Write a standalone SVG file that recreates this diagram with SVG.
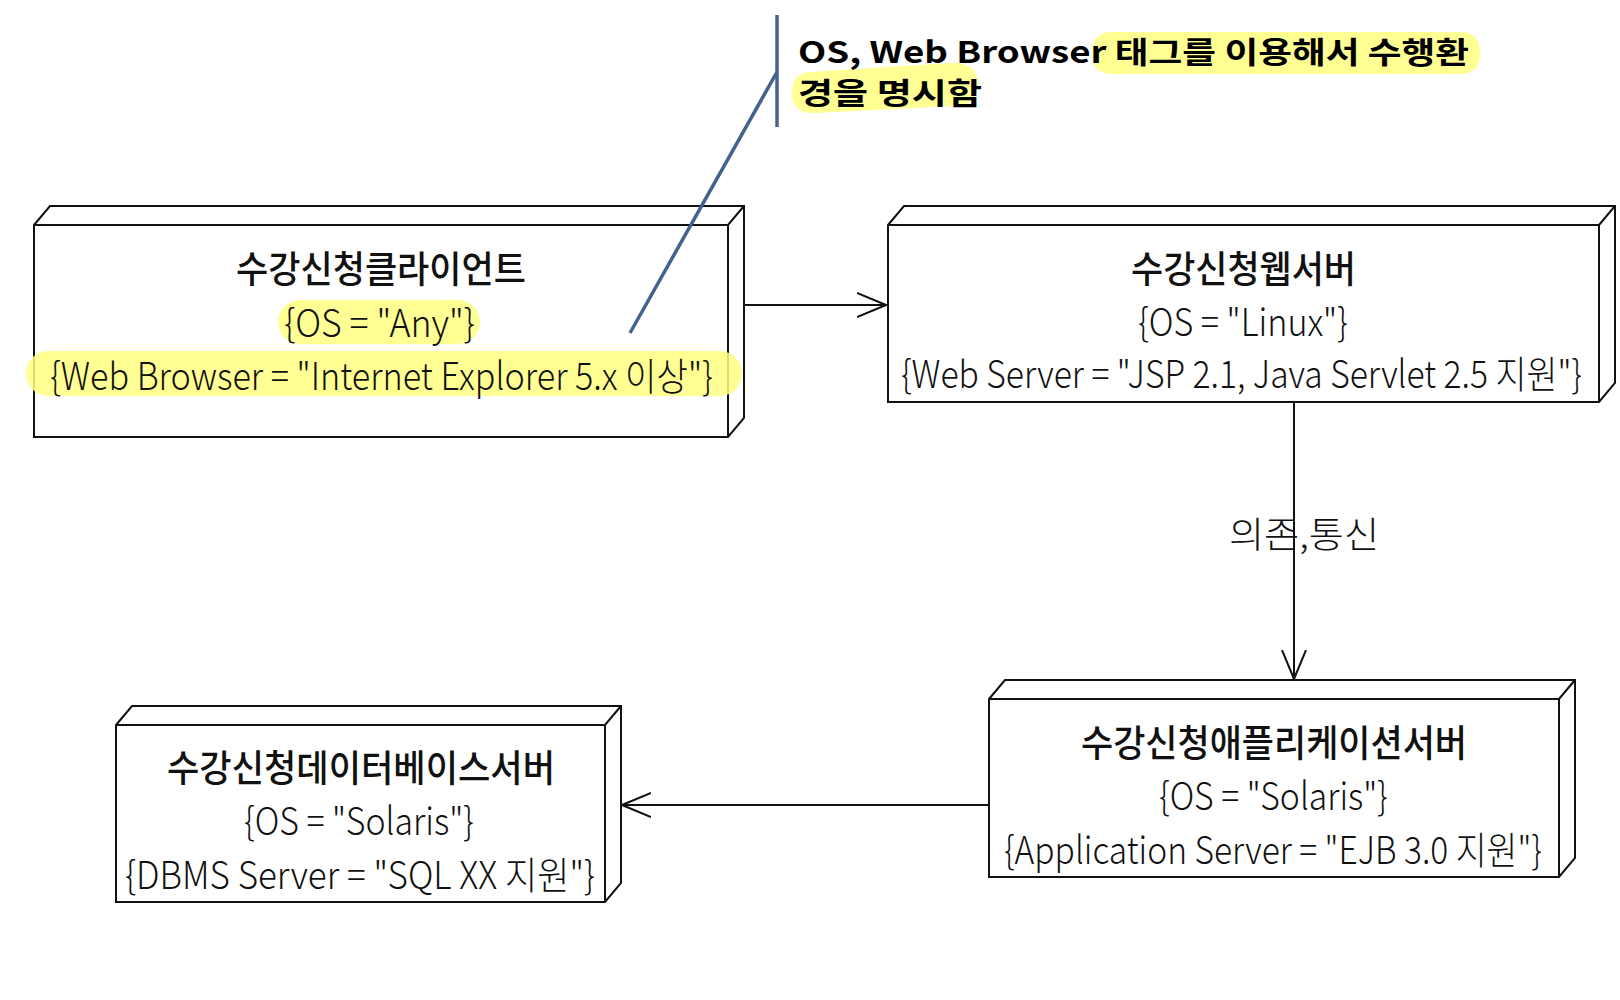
<svg xmlns="http://www.w3.org/2000/svg" width="1620" height="1000" viewBox="0 0 1620 1000">
<defs>
<style>
.node{fill:#fff;stroke:#111;stroke-width:2;stroke-linejoin:miter}
.edge{fill:none;stroke:#111;stroke-width:2}
.title{font-family:"Noto Sans CJK KR","Noto Sans",sans-serif;font-size:37px;font-weight:500;fill:#111}
.attr{font-family:"Noto Sans CJK KR","Noto Sans",sans-serif;font-size:38px;font-weight:300;fill:#111}
.hl{fill:#ffff80;opacity:0.85}
.note{font-family:"Noto Sans CJK KR","Noto Sans",sans-serif;font-size:30px;font-weight:700;fill:#000}
.hand{font-family:"Noto Sans CJK KR",sans-serif;font-size:36px;font-weight:300;fill:#111}
.callout{stroke:#44618f;stroke-width:3.5;fill:none}
</style>
<marker id="open" viewBox="0 0 30 26" refX="29" refY="13" markerWidth="30" markerHeight="26" markerUnits="userSpaceOnUse" orient="auto">
<path d="M0,1 L29,13 L0,25" fill="none" stroke="#111" stroke-width="2"/>
</marker>
</defs>
<rect width="1620" height="1000" fill="#fff"/>

<g id="client">
<path class="node" d="M34,225 L50,206 L744,206 L744,418 L728,437 L34,437 Z"/>
<path class="edge" d="M34,225 L728,225 L744,206 M728,225 L728,437"/>
<rect class="hl" x="278" y="300" width="202" height="44" rx="22"/>
<rect class="hl" x="26" y="351" width="716" height="45" rx="22"/>
<text class="title" x="236" y="283" textLength="290" lengthAdjust="spacingAndGlyphs">수강신청클라이언트</text>
<text class="attr" x="284" y="337" textLength="191" lengthAdjust="spacingAndGlyphs">{OS = "Any"}</text>
<text class="attr" x="50" y="390" textLength="663" lengthAdjust="spacingAndGlyphs">{Web Browser = "Internet Explorer 5.x 이상"}</text>
</g>

<g id="webserver">
<path class="node" d="M888,225 L904,206 L1615,206 L1615,383 L1599,402 L888,402 Z"/>
<path class="edge" d="M888,225 L1599,225 L1615,206 M1599,225 L1599,402"/>
<text class="title" x="1131" y="283" textLength="225" lengthAdjust="spacingAndGlyphs">수강신청웹서버</text>
<text class="attr" x="1138" y="336" textLength="210" lengthAdjust="spacingAndGlyphs">{OS = "Linux"}</text>
<text class="attr" x="901" y="388" font-size="36" textLength="681" lengthAdjust="spacingAndGlyphs">{Web Server = "JSP 2.1, Java Servlet 2.5 지원"}</text>
</g>

<g id="appserver">
<path class="node" d="M989,699 L1005,680 L1575,680 L1575,858 L1559,877 L989,877 Z"/>
<path class="edge" d="M989,699 L1559,699 L1575,680 M1559,699 L1559,877"/>
<text class="title" x="1081" y="757" textLength="386" lengthAdjust="spacingAndGlyphs">수강신청애플리케이션서버</text>
<text class="attr" x="1159" y="810" textLength="229" lengthAdjust="spacingAndGlyphs">{OS = "Solaris"}</text>
<text class="attr" x="1004" y="864" textLength="538" lengthAdjust="spacingAndGlyphs">{Application Server = "EJB 3.0 지원"}</text>
</g>

<g id="dbserver">
<path class="node" d="M116,725 L132,706 L621,706 L621,883 L605,902 L116,902 Z"/>
<path class="edge" d="M116,725 L605,725 L621,706 M605,725 L605,902"/>
<text class="title" x="167" y="782" textLength="388" lengthAdjust="spacingAndGlyphs">수강신청데이터베이스서버</text>
<text class="attr" x="244" y="835" textLength="230" lengthAdjust="spacingAndGlyphs">{OS = "Solaris"}</text>
<text class="attr" x="125" y="889" textLength="470" lengthAdjust="spacingAndGlyphs">{DBMS Server = "SQL XX 지원"}</text>
</g>

<g id="connectors">
<line class="edge" x1="744" y1="305" x2="886" y2="305" marker-end="url(#open)"/>
<line class="edge" x1="1294" y1="402" x2="1294" y2="679" marker-end="url(#open)"/>
<line class="edge" x1="989" y1="805" x2="622" y2="805" marker-end="url(#open)"/>
<text class="hand" x="1229" y="548" textLength="150" lengthAdjust="spacingAndGlyphs">의존,통신</text>
</g>

<g id="note">
<path class="hl" d="M1112,32 L1460,32 Q1480,32 1480,53 Q1480,74 1460,74 L1112,74 Q1092,74 1092,53 Q1092,32 1112,32 Z"/>
<path class="hl" d="M810,72 L950,63 Q978,62 978,84 Q978,104 955,106 L815,113 Q792,114 792,93 Q792,73 810,72 Z"/>
<line class="callout" x1="777" y1="15" x2="777" y2="127"/>
<line class="callout" x1="777" y1="72" x2="630" y2="333"/>
<text class="note" x="798" y="63" textLength="671" lengthAdjust="spacingAndGlyphs">OS, Web Browser 태그를 이용해서 수행환</text>
<text class="note" x="798" y="104" textLength="184" lengthAdjust="spacingAndGlyphs">경을 명시함</text>
</g>
</svg>
